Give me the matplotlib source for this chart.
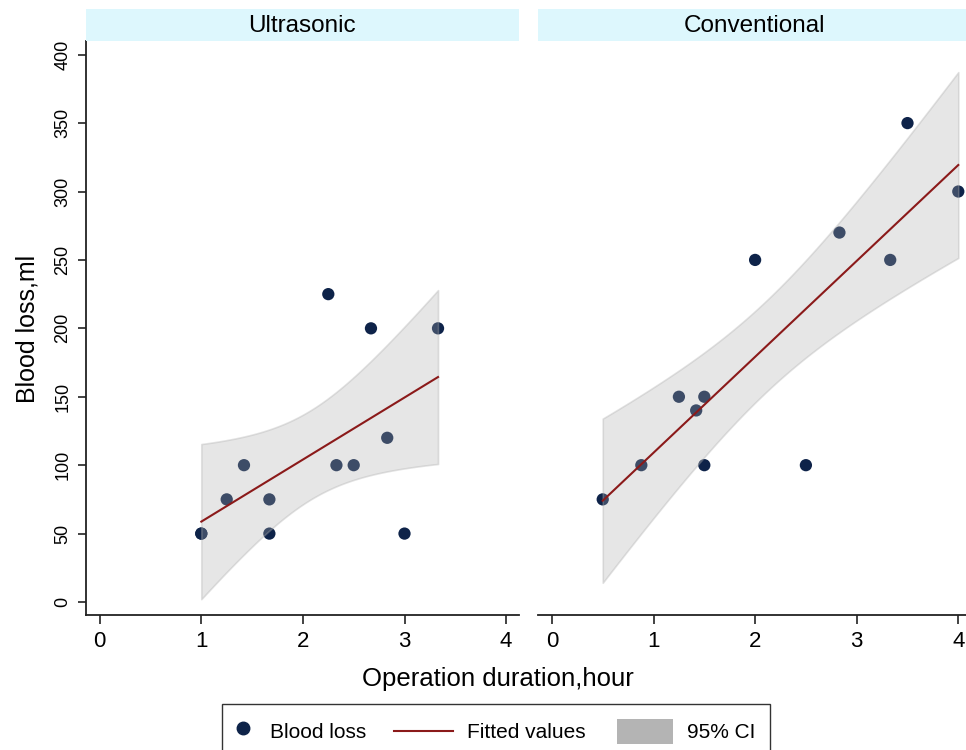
import numpy as np
import matplotlib
matplotlib.use('Agg')
import matplotlib.pyplot as plt
from matplotlib.lines import Line2D
from matplotlib.patches import Patch, Rectangle
from matplotlib.legend_handler import HandlerBase

plt.rcParams['font.family'] = ['Liberation Sans', 'DejaVu Sans']

# blood loss (ml) vs operation duration (hour)
# ultrasonic group: (1, 50) appears twice (overlapping markers)
us_hours = [1.0, 1.0, 1.25, 1.42, 1.67, 1.67, 2.25, 2.33, 2.5, 2.67, 2.83, 3.0, 3.33]
us_loss = [50, 50, 75, 100, 75, 50, 225, 100, 100, 200, 120, 50, 200]

cv_hours = [0.5, 0.88, 1.25, 1.42, 1.5, 1.5, 2.0, 2.5, 2.83, 3.33, 3.5, 4.0]
cv_loss = [75, 100, 150, 140, 150, 100, 250, 100, 270, 250, 350, 300]

panel_names = ['Ultrasonic', 'Conventional']
x_ticks = [0, 1, 2, 3, 4]
y_ticks = [0, 50, 100, 150, 200, 250, 300, 350, 400]

# two-sided 95% t critical values by degrees of freedom
T975 = {10: 2.228, 11: 2.201}

NAVY = '#0e2349'
MAROON = '#8b1a1a'
STRIP = '#ddf7fd'

W, H = 966, 750


def px_box(l, t, r, b):
    return [l / W, 1 - b / H, (r - l) / W, (b - t) / H]


def lfitci(x, y, n_grid=120):
    x = np.asarray(x, float)
    y = np.asarray(y, float)
    n = len(x)
    slope, icpt = np.polyfit(x, y, 1)
    resid = y - (icpt + slope * x)
    s = np.sqrt(np.sum(resid ** 2) / (n - 2))
    sxx = np.sum((x - x.mean()) ** 2)
    grid = np.linspace(x.min(), x.max(), n_grid)
    fit = icpt + slope * grid
    se = s * np.sqrt(1 / n + (grid - x.mean()) ** 2 / sxx)
    half = T975[n - 2] * se
    return grid, fit, fit - half, fit + half


# legend keys wider than the (narrow) handle box, stata style
class WideKey(HandlerBase):
    def __init__(self, kind, x0, x1):
        super().__init__()
        self.kind, self.x0, self.x1 = kind, x0, x1

    def create_artists(self, legend, orig_handle, xdescent, ydescent,
                       width, height, fontsize, trans):
        a = self.x0 * fontsize - xdescent
        b = self.x1 * fontsize - xdescent
        if self.kind == 'line':
            y = height / 2 - ydescent
            art = Line2D([a, b], [y, y], color=orig_handle.get_color(),
                         lw=orig_handle.get_linewidth(), transform=trans)
        else:
            art = Rectangle((a, -ydescent), b - a, height,
                            facecolor=orig_handle.get_facecolor(),
                            edgecolor='none', transform=trans)
        return [art]


fig = plt.figure(figsize=(W / 100, H / 100), dpi=100)

panels = [(us_hours, us_loss), (cv_hours, cv_loss)]
ax_boxes = [(85.5, 41, 519.3, 615), (537.7, 41, 971.5, 615)]
strip_boxes = [(85.5, 9, 519.3, 41), (537.7, 9, 971.5, 41)]

for i, ((hx, ly), name) in enumerate(zip(panels, panel_names)):
    ax = fig.add_axes(px_box(*ax_boxes[i]))
    ax.scatter(hx, ly, s=78, color=NAVY, edgecolors='none', zorder=2)
    g, fit, lo, hi = lfitci(hx, ly)
    ax.fill_between(g, lo, hi, facecolor=(0.68, 0.68, 0.68, 0.3),
                    edgecolor=(0.68, 0.68, 0.68, 0.35), linewidth=1.2, zorder=3)
    ax.plot(g, fit, color=MAROON, lw=1.5, zorder=4)

    ax.set_xlim(-0.14, 4.13)
    ax.set_ylim(-9.5, 410)
    ax.set_xticks(x_ticks)
    ax.set_yticks(y_ticks)
    for sp in ['top', 'right']:
        ax.spines[sp].set_visible(False)
    ax.spines['bottom'].set_linewidth(1.3)
    ax.spines['bottom'].set_color('#222222')
    ax.tick_params(axis='x', direction='out', length=6.5, width=1.2,
                   labelsize=16, pad=5, color='#222222')
    if i == 0:
        ax.spines['left'].set_linewidth(1.3)
        ax.spines['left'].set_color('#222222')
        ax.tick_params(axis='y', direction='out', length=6, width=1.2,
                       labelsize=13, pad=4, color='#222222')
        for lab in ax.get_yticklabels():
            lab.set_rotation(90)
            lab.set_va('center')
    else:
        ax.spines['left'].set_visible(False)
        ax.tick_params(axis='y', left=False, labelleft=False)

    sax = fig.add_axes(px_box(*strip_boxes[i]))
    sax.set_facecolor(STRIP)
    sax.set_xticks([])
    sax.set_yticks([])
    for sp in sax.spines.values():
        sp.set_visible(False)
    sax.text(0.5, 0.48, name, ha='center', va='center', fontsize=17.5,
             transform=sax.transAxes)

fig.text(28 / W, 1 - 329 / H, 'Blood loss,ml', rotation=90, ha='center',
         va='center', fontsize=18)
fig.text(498 / W, 1 - 679 / H, 'Operation duration,hour', ha='center',
         va='center', fontsize=18.5)

h_pt = Line2D([], [], marker='o', linestyle='none', color=NAVY, markersize=9)
h_fit = Line2D([], [], color=MAROON, lw=1.5)
h_ci = Patch(facecolor='#b4b4b4', edgecolor='none')
leg = fig.legend([h_pt, h_fit, h_ci], ['Blood loss', 'Fitted values', '95% CI'],
                 loc='upper left', bbox_to_anchor=(222 / W, 1 - 704 / H),
                 ncol=3, fontsize=15, frameon=True, fancybox=False,
                 edgecolor='black', handlelength=0.6, handleheight=1.5,
                 columnspacing=3.25, borderpad=0.7, handletextpad=1.0,
                 borderaxespad=0,
                 handler_map={h_fit: WideKey('line', -1.9, 0.9),
                              h_ci: WideKey('rect', -1.75, 0.95)})
leg.get_frame().set_linewidth(1.0)

fig.savefig('out.png', dpi=100, facecolor='white')
